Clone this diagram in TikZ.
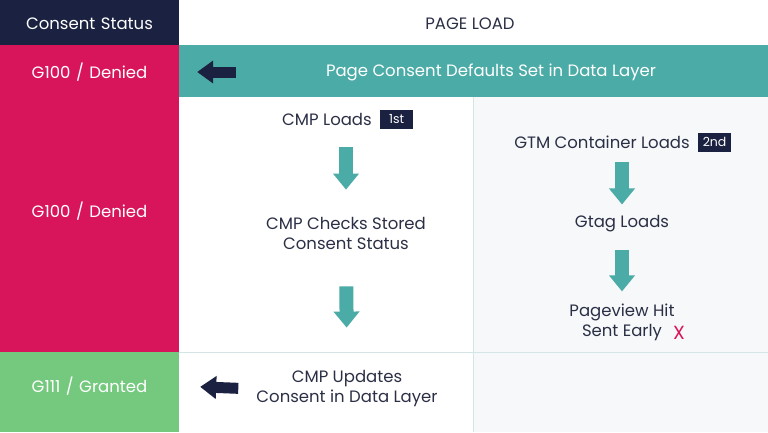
\documentclass[tikz,border=0pt]{standalone}
\usepackage{fontspec}
\setmainfont{Poppins}
\usetikzlibrary{arrows.meta,positioning}
\definecolor{navy}{HTML}{1B2140}
\definecolor{deny}{HTML}{D8145A}
\definecolor{grant}{HTML}{74C97E}
\definecolor{tealbar}{HTML}{4BABA6}
\definecolor{panel}{HTML}{F6F8F9}
\definecolor{gridline}{HTML}{D3E5E7}
\definecolor{ink}{HTML}{2B2F45}
\tikzset{
	txt/.style={font=\fontsize{16.5}{20}\selectfont, text=ink, align=center, inner sep=1pt},
	status/.style={txt, text=white, text width=175pt, inner sep=2pt},
	badge/.style={fill=navy, text=white, font=\fontsize{12.5}{13}\selectfont,
			minimum width=33pt, minimum height=19pt, inner sep=0pt},
	downarrow/.style={draw=tealbar, line width=14pt, -{Triangle[width=25pt,length=16pt]}},
	backarrow/.style={draw=navy, line width=11pt, -{Triangle[width=22pt,length=16pt]}}
}

\begin{document}
\begin{tikzpicture}[x=1pt,y=-1pt]
		\useasboundingbox (0,0) rectangle (768,432);

		% table
		\fill[navy] (0,0) rectangle (179,45);
		\fill[deny] (0,45) rectangle (179,352);
		\fill[grant] (0,352) rectangle (179,432);
		\fill[tealbar] (179,45) rectangle (768,97);
		\fill[panel] (473,97) rectangle (768,432);
		\draw[gridline, line width=1pt] (473,97) -- (473,432);
		\draw[gridline, line width=1pt] (179,352) -- (768,352);

		% status column
		\node[status] (hdr) at (89.5,24) {Consent Status};
		\node[status] (def) at (89.5,72) {G100 / Denied};
		\node[status] (den) at (89.5,211) {G100 / Denied};
		\node[status] (gra) at (89.5,386) {G111 / Granted};

		% page load
		\node[txt] (load) at (470,24) {PAGE LOAD};
		\node[txt, text=white] (dl) at (491,72) {Page Consent Defaults Set in Data Layer};
		\node[txt] (cmp) at (327,119) {CMP Loads};
		\node[badge, right=7pt of cmp] (first) {1st};
		\node[txt] (chk) at (346,233) {CMP Checks Stored\\Consent Status};
		\node[txt] (upd) at (347,389) {CMP Updates\\Consent in Data Layer};
		\node[txt] (gtm) at (602,142) {GTM Container Loads};
		\node[badge, right=7pt of gtm] (second) {2nd};
		\node[txt] (gtag) at (622,224) {Gtag Loads};
		\node[txt] (hit) at (622,322) {Pageview Hit\\Sent Early};
		\node[txt, text=deny, font=\fontsize{19}{20}\selectfont] (early) at (679,333) {X};

		\draw[downarrow, shorten <=21pt, shorten >=26pt] (chk.north |- cmp.south) -- (chk.north);
		\draw[downarrow, shorten <=36pt, shorten >=42pt] (chk.south) -- (upd.north);
		\draw[downarrow, shorten <=12pt, shorten >=10pt] (gtag.north |- gtm.south) -- (gtag.north);
		\draw[downarrow, shorten <=16pt, shorten >=11pt] (gtag.south) -- (hit.north);

		\draw[backarrow, shorten <=89pt, shorten >=18pt] (dl.west) -- (def.east);
		\draw[backarrow, shorten <=17pt, shorten >=21pt] (upd.west) -- (gra.east);

	\end{tikzpicture}
\end{document}
